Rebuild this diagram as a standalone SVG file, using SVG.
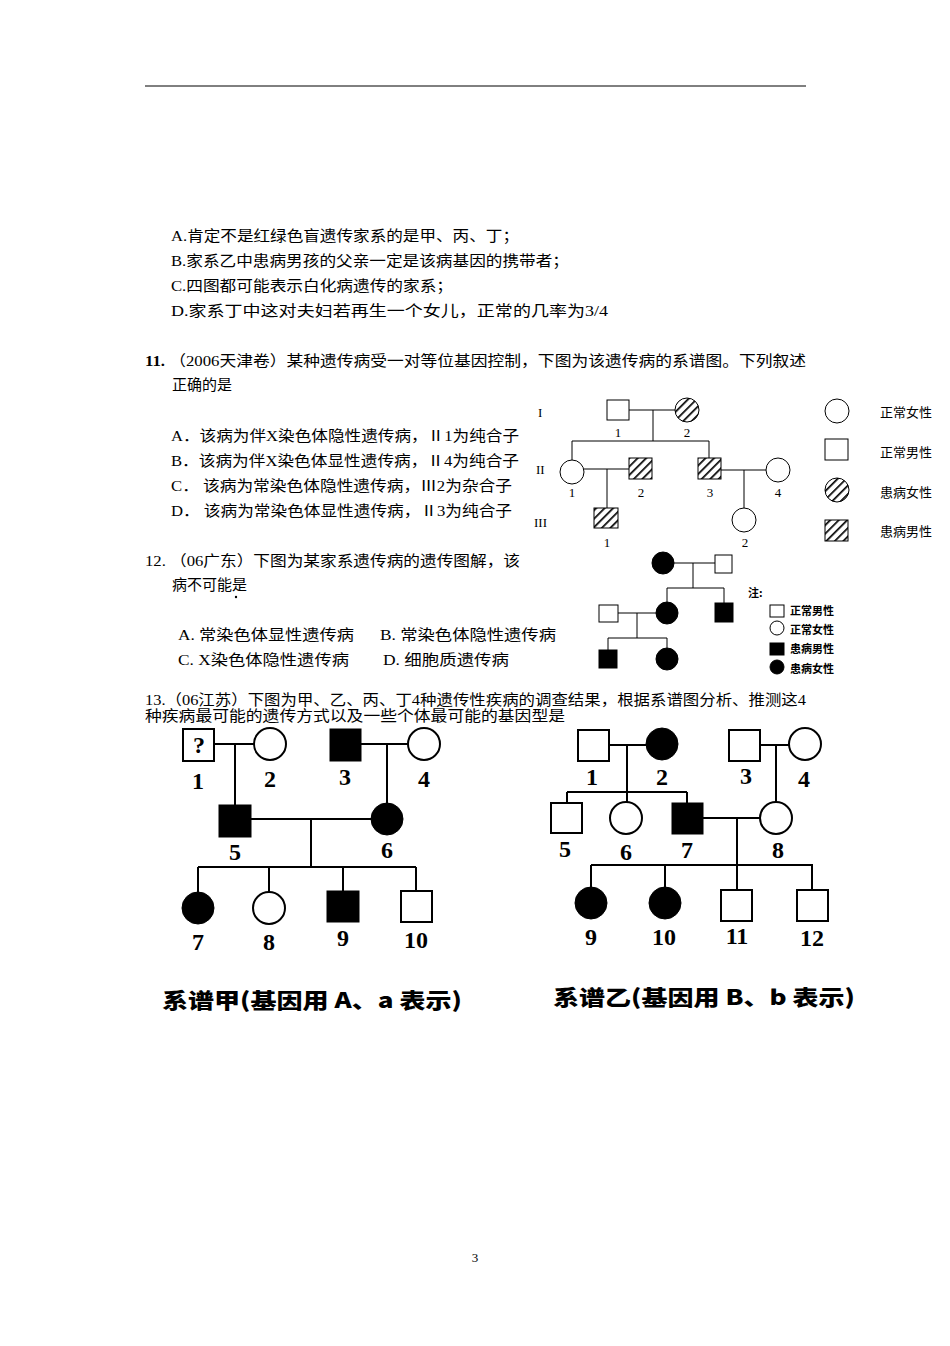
<svg xmlns="http://www.w3.org/2000/svg" width="950" height="1346" viewBox="0 0 950 1346">
<style>
.t{font-family:"Liberation Serif","Noto Sans CJK SC",serif;font-size:15px;fill:#000}
.s{font-family:"Liberation Serif","Noto Sans CJK SC",serif;font-size:13px;fill:#000}
.lg{font-family:"Noto Sans CJK SC",sans-serif;font-size:13px;fill:#000}
.lg2{font-family:"Noto Sans CJK SC",sans-serif;font-size:11px;font-weight:bold;fill:#000}
.n{font-family:"Liberation Serif",serif;font-size:24px;font-weight:bold;fill:#000;text-anchor:middle}
.cap{font-family:"Noto Sans CJK SC",sans-serif;font-size:21px;font-weight:900;fill:#000;text-anchor:middle}
.m{text-anchor:middle}
.ln{stroke:#000;stroke-width:1;fill:none}
.ln2{stroke:#000;stroke-width:2;fill:none}
.o{fill:#fff;stroke:#000;stroke-width:1}
.o2{fill:#fff;stroke:#000;stroke-width:2}
.f{fill:#000;stroke:#000;stroke-width:1}
.h{fill:url(#hatch);stroke:#000;stroke-width:1}
</style>
<defs>
<pattern id="hatch" patternUnits="userSpaceOnUse" width="6" height="6" patternTransform="rotate(45)">
<rect width="6" height="6" fill="#fff"/>
<line x1="0" y1="0" x2="0" y2="6" stroke="#000" stroke-width="3.4"/>
</pattern>
</defs>
<rect width="950" height="1346" fill="#fff"/>
<line x1="145" y1="86" x2="806" y2="86" stroke="#000" stroke-width="1"/>

<g id="text">
<text class="t" x="171" y="241" textLength="348" lengthAdjust="spacingAndGlyphs">A.肯定不是红绿色盲遗传家系的是甲、丙、丁；</text>
<text class="t" x="171" y="266" textLength="398" lengthAdjust="spacingAndGlyphs">B.家系乙中患病男孩的父亲一定是该病基因的携带者；</text>
<text class="t" x="171" y="291" textLength="282" lengthAdjust="spacingAndGlyphs">C.四图都可能表示白化病遗传的家系；</text>
<text class="t" x="171" y="316" textLength="437" lengthAdjust="spacingAndGlyphs">D.家系丁中这对夫妇若再生一个女儿，正常的几率为3/4</text>
<text class="t" x="145" y="366" textLength="661" lengthAdjust="spacingAndGlyphs"><tspan font-weight="bold">11.</tspan> （2006天津卷）某种遗传病受一对等位基因控制，下图为该遗传病的系谱图。下列叙述</text>
<text class="t" x="172" y="390">正确的是</text>
<text class="t" x="171" y="441" textLength="348" lengthAdjust="spacingAndGlyphs">A．该病为伴X染色体隐性遗传病，Ⅱ1为纯合子</text>
<text class="t" x="171" y="466" textLength="348" lengthAdjust="spacingAndGlyphs">B．该病为伴X染色体显性遗传病，Ⅱ4为纯合子</text>
<text class="t" x="171" y="491" textLength="341" lengthAdjust="spacingAndGlyphs">C． 该病为常染色体隐性遗传病，Ⅲ2为杂合子</text>
<text class="t" x="171" y="516" textLength="341" lengthAdjust="spacingAndGlyphs">D． 该病为常染色体显性遗传病，Ⅱ3为纯合子</text>
<text class="t" x="145" y="566" textLength="375" lengthAdjust="spacingAndGlyphs">12. （06广东）下图为某家系遗传病的遗传图解，该</text>
<text class="t" x="172" y="590">病不可能是</text>
<circle cx="236" cy="597" r="1.2" fill="#000"/>
<text class="t" x="178" y="640" textLength="176" lengthAdjust="spacingAndGlyphs">A.  常染色体显性遗传病</text>
<text class="t" x="380" y="640" textLength="176" lengthAdjust="spacingAndGlyphs">B.  常染色体隐性遗传病</text>
<text class="t" x="178" y="665" textLength="171" lengthAdjust="spacingAndGlyphs">C.  X染色体隐性遗传病</text>
<text class="t" x="383" y="665" textLength="126" lengthAdjust="spacingAndGlyphs">D.  细胞质遗传病</text>
<text class="t" x="145" y="705" textLength="661" lengthAdjust="spacingAndGlyphs">13.（06江苏）下图为甲、乙、丙、丁4种遗传性疾病的调查结果，根据系谱图分析、推测这4</text>
<text class="t" x="145" y="721" textLength="420" lengthAdjust="spacingAndGlyphs">种疾病最可能的遗传方式以及一些个体最可能的基因型是</text>
<text class="s m" x="475" y="1262">3</text>
</g>

<g id="connectors">
<path class="ln" d="M629 410H675M653 410V441M572 441H709M572 441V460M709 441V458M584 469H629M607 469V508M721 470H766M744 470V508"/>
<path class="ln" d="M674 563H715M693 563V588M667 588H724M667 588V602M724 588V603M618 613H656M637 613V638M608 638H667M608 638V650M667 638V648"/>
<path class="ln2" d="M214 744H254M235 744V805M361 744H408M387 744V803M251 819H371M311 819V867M198 867H416M198 867V892M269 867V892M343 867V891M416 867V891"/>
<path class="ln2" d="M609 745H646M627 745V792M567 792H687M567 792V803M627 792V802M687 792V803M760 745H789M776 745V802M703 818H760M737 818V865M591 865H813M591 865V887M665 865V887M737 865V890M812 865V890"/>
</g>

<g id="q11">
<text class="s" x="538" y="417">I</text>
<text class="s" x="536" y="474">II</text>
<text class="s" x="534" y="527">III</text>
<g id="q11-I1"><rect class="o" x="607" y="400" width="22" height="20"/><text class="s m" x="618" y="437">1</text></g>
<g id="q11-I2"><circle class="h" cx="687" cy="410" r="12"/><text class="s m" x="687" y="437">2</text></g>
<g id="q11-II1"><circle class="o" cx="572" cy="472" r="12"/><text class="s m" x="572" y="497">1</text></g>
<g id="q11-II2"><rect class="h" x="629" y="458" width="23" height="21"/><text class="s m" x="641" y="497">2</text></g>
<g id="q11-II3"><rect class="h" x="698" y="458" width="23" height="21"/><text class="s m" x="710" y="497">3</text></g>
<g id="q11-II4"><circle class="o" cx="778" cy="470" r="12"/><text class="s m" x="778" y="497">4</text></g>
<g id="q11-III1"><rect class="h" x="594" y="508" width="24" height="20"/><text class="s m" x="607" y="547">1</text></g>
<g id="q11-III2"><circle class="o" cx="744" cy="520" r="12"/><text class="s m" x="745" y="547">2</text></g>
<g id="q11-legend">
<circle class="o" cx="837" cy="411" r="12"/><text class="lg" x="880" y="417">正常女性</text>
<rect class="o" x="825" y="439" width="23" height="21"/><text class="lg" x="880" y="457">正常男性</text>
<circle class="h" cx="837" cy="490" r="12"/><text class="lg" x="880" y="497">患病女性</text>
<rect class="h" x="825" y="520" width="23" height="21"/><text class="lg" x="880" y="536">患病男性</text>
</g>
</g>

<g id="q12">
<g id="q12-I1"><circle class="f" cx="663" cy="563" r="11"/></g>
<g id="q12-I2"><rect class="o" x="715" y="555" width="17" height="18"/></g>
<g id="q12-II-husband"><rect class="o" x="599" y="605" width="19" height="17"/></g>
<g id="q12-II-f"><circle class="f" cx="667" cy="613" r="11"/></g>
<g id="q12-II-m"><rect class="f" x="715" y="603" width="18" height="19"/></g>
<g id="q12-III-m"><rect class="f" x="599" y="650" width="18" height="18"/></g>
<g id="q12-III-f"><circle class="f" cx="667" cy="659" r="11"/></g>
<g id="q12-legend">
<text class="lg2" x="748" y="597">注:</text>
<rect class="o" x="770" y="605" width="14" height="12"/><text class="lg2" x="790" y="615">正常男性</text>
<circle class="o" cx="777" cy="628" r="7"/><text class="lg2" x="790" y="634">正常女性</text>
<rect class="f" x="770" y="643" width="14" height="12"/><text class="lg2" x="790" y="653">患病男性</text>
<circle class="f" cx="777" cy="667" r="7"/><text class="lg2" x="790" y="673">患病女性</text>
</g>
</g>

<g id="jia">
<g id="jia-1"><rect class="o2" x="183" y="729" width="31" height="32"/><text class="n" x="199" y="753" font-size="18">?</text><text class="n" x="198" y="789">1</text></g>
<g id="jia-2"><circle class="o2" cx="270" cy="744" r="16"/><text class="n" x="270" y="787">2</text></g>
<g id="jia-3"><rect class="f" x="330" y="729" width="31" height="32"/><text class="n" x="345" y="785">3</text></g>
<g id="jia-4"><circle class="o2" cx="424" cy="744" r="16"/><text class="n" x="424" y="787">4</text></g>
<g id="jia-5"><rect class="f" x="219" y="805" width="32" height="32"/><text class="n" x="235" y="860">5</text></g>
<g id="jia-6"><circle class="f" cx="387" cy="819" r="16"/><text class="n" x="387" y="858">6</text></g>
<g id="jia-7"><circle class="f" cx="198" cy="908" r="16"/><text class="n" x="198" y="950">7</text></g>
<g id="jia-8"><circle class="o2" cx="269" cy="908" r="16"/><text class="n" x="269" y="950">8</text></g>
<g id="jia-9"><rect class="f" x="327" y="891" width="32" height="31"/><text class="n" x="343" y="946">9</text></g>
<g id="jia-10"><rect class="o2" x="401" y="891" width="31" height="31"/><text class="n" x="416" y="948">10</text></g>
<text class="cap" x="312" y="1008" textLength="300" lengthAdjust="spacingAndGlyphs">系谱甲(基因用 A、a 表示)</text>
</g>

<g id="yi">
<g id="yi-1"><rect class="o2" x="578" y="730" width="31" height="31"/><text class="n" x="592" y="785">1</text></g>
<g id="yi-2"><circle class="f" cx="662" cy="744" r="16"/><text class="n" x="662" y="785">2</text></g>
<g id="yi-3"><rect class="o2" x="729" y="730" width="31" height="31"/><text class="n" x="746" y="784">3</text></g>
<g id="yi-4"><circle class="o2" cx="805" cy="744" r="16"/><text class="n" x="804" y="787">4</text></g>
<g id="yi-5"><rect class="o2" x="551" y="803" width="31" height="30"/><text class="n" x="565" y="857">5</text></g>
<g id="yi-6"><circle class="o2" cx="626" cy="818" r="16"/><text class="n" x="626" y="860">6</text></g>
<g id="yi-7"><rect class="f" x="672" y="803" width="31" height="31"/><text class="n" x="687" y="858">7</text></g>
<g id="yi-8"><circle class="o2" cx="776" cy="818" r="16"/><text class="n" x="778" y="858">8</text></g>
<g id="yi-9"><circle class="f" cx="591" cy="903" r="16"/><text class="n" x="591" y="945">9</text></g>
<g id="yi-10"><circle class="f" cx="665" cy="903" r="16"/><text class="n" x="664" y="945">10</text></g>
<g id="yi-11"><rect class="o2" x="721" y="890" width="31" height="31"/><text class="n" x="737" y="944">11</text></g>
<g id="yi-12"><rect class="o2" x="797" y="890" width="31" height="31"/><text class="n" x="812" y="946">12</text></g>
<text class="cap" x="704" y="1005" textLength="302" lengthAdjust="spacingAndGlyphs">系谱乙(基因用 B、b 表示)</text>
</g>
</svg>
